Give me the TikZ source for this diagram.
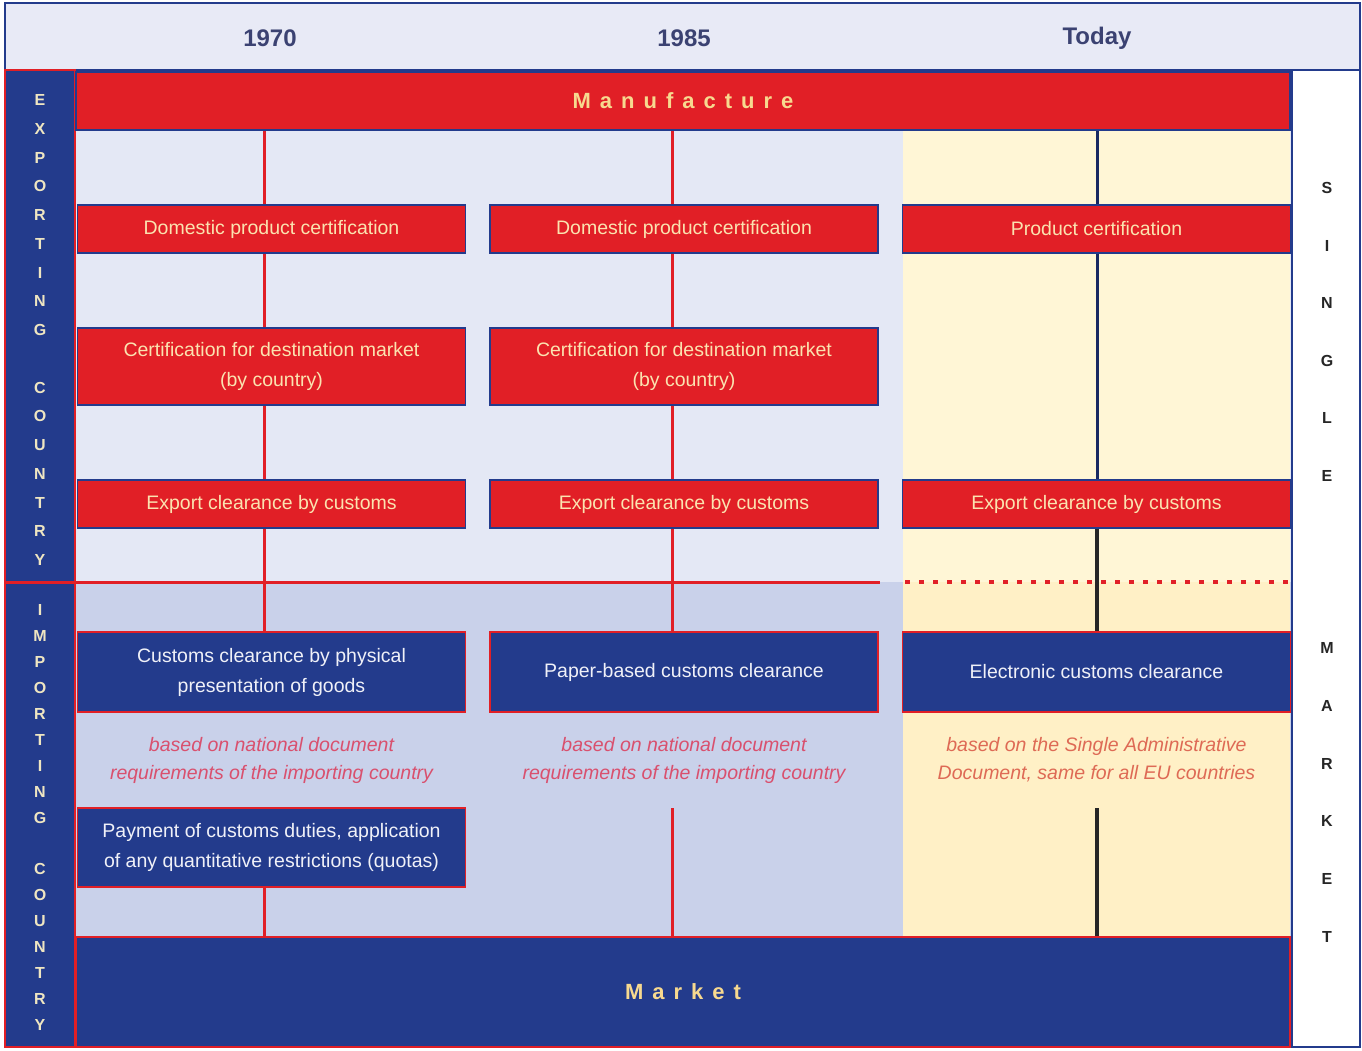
\documentclass[tikz,border=0pt]{standalone}
\usepackage{fontspec}
\setmainfont{Liberation Sans}
\usepackage{xcolor}

\definecolor{eured}{HTML}{E11F26}
\definecolor{eunavy}{HTML}{233B8C}
\definecolor{headbg}{HTML}{E8EAF6}
\definecolor{paleblue}{HTML}{E4E8F5}
\definecolor{midblue}{HTML}{C9D1EA}
\definecolor{paleyellow}{HTML}{FFF6D6}
\definecolor{deepyellow}{HTML}{FFF0C6}
\definecolor{redtext}{HTML}{FBE3B0}
\definecolor{bluetext}{HTML}{F0F1F8}
\definecolor{bartext}{HTML}{F7D98F}
\definecolor{sidetext}{HTML}{EFE6C2}
\definecolor{notered}{HTML}{D9506E}
\definecolor{noteorange}{HTML}{DE6A55}
\definecolor{yearcol}{HTML}{3B4272}

\tikzset{
  redbox/.style={draw=eunavy, line width=1.6pt, fill=eured, text=redtext, minimum width=388pt,
    align=center, inner sep=0pt, font={\fontsize{19.5}{30}\selectfont}},
  bluebox/.style={redbox, draw=eured, fill=eunavy, text=bluetext},
  notetxt/.style={align=center, text=notered, font={\fontsize{19.5}{28}\selectfont\itshape}},
  yearlbl/.style={text=yearcol, font={\fontsize{24}{28}\selectfont\bfseries}},
  bigbar/.style={minimum width=1214pt, inner sep=0pt, line width=1.6pt, text=bartext,
    font={\fontsize{22}{26}\selectfont\bfseries\spaceskip=9pt\relax}},
  sideletter/.style={text=sidetext, font={\fontsize{16}{18}\selectfont\bfseries}},
  rightletter/.style={text=black!85, font={\fontsize{16}{18}\selectfont\bfseries}},
  redline/.style={eured, line width=3pt},
  navyline/.style={eunavy!70!black, line width=3pt},
  blackline/.style={black!85, line width=4pt}
}

\begin{document}
\begin{tikzpicture}[x=1pt,y=-1pt]
  \useasboundingbox (0,0) rectangle (1362,1050);
  \fill [white] (0,0) rectangle (1362,1050);
  \draw [eunavy, line width=1.5pt, fill=headbg] (5,3) rectangle (1360,70);
  \fill [paleblue] (75,130) rectangle (1292,582);
  \fill [midblue] (75,582) rectangle (1292,937);
  \fill [paleyellow] (903,130) rectangle (1290,582);
  \fill [deepyellow] (903,582) rectangle (1290,937);
  \draw [eured, line width=1.2pt, fill=eunavy] (5,70) rectangle (75,1047);
  \draw [eunavy, line width=1.5pt, fill=white] (1292,70) rectangle (1360,1047);

  \node [yearlbl] (y1) at (270,38) {1970};
  \node [yearlbl] (y2) at (684,38) {1985};
  \node [yearlbl] (y3) at (1097,38) {Today};

  \node [bigbar, draw=eunavy, fill=eured, minimum height=58pt] (manu) at (683,101) {M a n u f a c t u r e};
  \node [bigbar, draw=eured, fill=eunavy, minimum height=110pt] (market) at (683,992) {M a r k e t};

  \draw [eured, line width=3pt] (5,582) -- (880,582);
  \draw [eured, line width=4pt, dash pattern=on 5pt off 9pt] (905,582) -- (1290,582);

  \coordinate (l1) at (264,0);
  \coordinate (l2) at (672,0);
  \coordinate (l3) at (1097,0);

  \node [redbox, minimum height=48pt] (dom1) at (271.5,229) {Domestic product certification};
  \node [redbox, minimum height=48pt] (dom2) at (684,229) {Domestic product certification};
  \node [redbox, minimum height=48pt] (prod3) at (1096.5,229) {Product certification};
  \node [redbox, minimum height=77pt] (dest1) at (271.5,366.5) {Certification for destination market\\(by country)};
  \node [redbox, minimum height=77pt] (dest2) at (684,366.5) {Certification for destination market\\(by country)};
  \node [redbox, minimum height=48pt] (exp1) at (271.5,504) {Export clearance by customs};
  \node [redbox, minimum height=48pt] (exp2) at (684,504) {Export clearance by customs};
  \node [redbox, minimum height=48pt] (exp3) at (1096.5,504) {Export clearance by customs};

  \node [bluebox, minimum height=80pt] (imp1) at (271.5,672) {Customs clearance by physical\\presentation of goods};
  \node [bluebox, minimum height=80pt] (imp2) at (684,672) {Paper-based customs clearance};
  \node [bluebox, minimum height=80pt] (imp3) at (1096.5,672) {Electronic customs clearance};
  \node [notetxt] (note1) at (271.5,760) {based on national document\\requirements of the importing country};
  \node [notetxt] (note2) at (684,760) {based on national document\\requirements of the importing country};
  \node [notetxt, text=noteorange] (note3) at (1096.5,760) {based on the Single Administrative\\Document, same for all EU countries};
  \node [bluebox, minimum height=79pt] (pay1) at (271.5,847.5) {Payment of customs duties, application\\of any quantitative restrictions (quotas)};

  \foreach \c in {1,2} {
    \draw [redline] (manu.south -| l\c) -- (dom\c.north -| l\c);
    \draw [redline] (dom\c.south -| l\c) -- (dest\c.north -| l\c);
    \draw [redline] (dest\c.south -| l\c) -- (exp\c.north -| l\c);
    \draw [redline] (exp\c.south -| l\c) -- (imp\c.north -| l\c);
  }
  \draw [redline] (pay1.south -| l1) -- (market.north -| l1);
  \coordinate (tail2) at (672,808);
  \draw [redline] (tail2) -- (market.north -| tail2);
  \draw [navyline] (manu.south -| l3) -- (prod3.north -| l3);
  \draw [navyline] (prod3.south -| l3) -- (exp3.north -| l3);
  \draw [blackline] (exp3.south -| l3) -- (imp3.north -| l3);
  \coordinate (tail3) at (1097,808);
  \draw [blackline] (tail3) -- (market.north -| tail3);

  \foreach \ch [count=\i from 0] in {E,X,P,O,R,T,I,N,G}
    \node [sideletter] (ex\i) at (40,100+28.75*\i) {\ch};
  \foreach \ch [count=\i from 10] in {C,O,U,N,T,R,Y}
    \node [sideletter] (ex\i) at (40,100+28.75*\i) {\ch};
  \foreach \ch [count=\i from 0] in {I,M,P,O,R,T,I,N,G}
    \node [sideletter] (im\i) at (40,610+25.94*\i) {\ch};
  \foreach \ch [count=\i from 10] in {C,O,U,N,T,R,Y}
    \node [sideletter] (im\i) at (40,610+25.94*\i) {\ch};
  \foreach \ch [count=\i from 0] in {S,I,N,G,L,E}
    \node [rightletter] (sg\i) at (1327,188+57.6*\i) {\ch};
  \foreach \ch [count=\i from 0] in {M,A,R,K,E,T}
    \node [rightletter] (mk\i) at (1327,648+57.8*\i) {\ch};
\end{tikzpicture}
\end{document}
